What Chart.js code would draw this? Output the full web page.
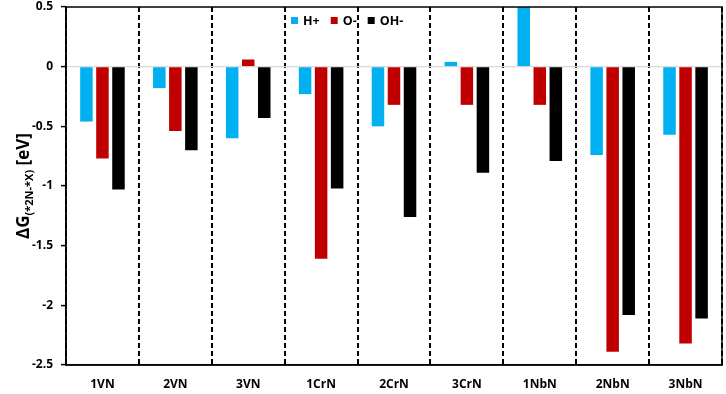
<!DOCTYPE html>
<html><head><meta charset="utf-8">
<script src="https://cdn.jsdelivr.net/npm/chart.js@4/dist/chart.umd.min.js"></script>
<style>html,body{margin:0;padding:0;background:#fff}#wrap{width:726px;height:394px}</style>
</head><body><div id="wrap"><canvas id="c" width="726" height="394"></canvas></div>
<script>
const categories = ['1VN','2VN','3VN','1CrN','2CrN','3CrN','1NbN','2NbN','3NbN'];
const hPlus = [-0.46,-0.18,-0.60,-0.23,-0.50,0.04,0.50,-0.74,-0.57];
const oMinus = [-0.77,-0.54,0.06,-1.61,-0.32,-0.32,-0.32,-2.39,-2.32];
const ohMinus = [-1.03,-0.70,-0.43,-1.02,-1.26,-0.89,-0.79,-2.08,-2.11];
const seriesLabels = ['H+','O-','OH-'];
const yTicks = [0.5,0,-0.5,-1,-1.5,-2,-2.5];

const FONT = '"Open Sans", Lato, sans-serif';
const colors = ['#00B0F0','#C00000','#000000'];

const boxPlugin = {
  id:'box',
  afterDraw(chart){
    const {ctx, chartArea:a} = chart;
    ctx.save();
    ctx.strokeStyle='#000'; ctx.lineWidth=1.5;
    ctx.strokeRect(a.left, a.top, a.right-a.left, a.bottom-a.top);
    // legend
    ctx.font = 'bold 12.5px '+FONT;
    ctx.textBaseline='middle';
    let x = 291; const y = 21;
    chart.data.datasets.forEach((ds,i)=>{
      ctx.fillStyle = ds.backgroundColor;
      ctx.fillRect(x, y-4, 7, 7);
      x += 12;
      ctx.fillStyle='#000';
      ctx.fillText(ds.label, x, y);
      x += ctx.measureText(ds.label).width + 11;
    });
    // y title
    ctx.translate(23, (a.top+a.bottom)/2);
    ctx.rotate(-Math.PI/2);
    const big = 'bold 17px '+FONT, small = 'bold 11px '+FONT, tail='bold 17px '+FONT;
    const p1='ΔG', p2='(*2N-*X)', p3=' [eV]';
    ctx.font=big; const w1=ctx.measureText(p1).width;
    ctx.font=small; const w2=ctx.measureText(p2).width;
    ctx.font=tail; const w3=ctx.measureText(p3).width;
    let sx = -(w1+w2+w3)/2;
    ctx.textBaseline='alphabetic';
    ctx.fillStyle='#000';
    ctx.font=big; ctx.fillText(p1, sx, 6); sx+=w1;
    ctx.font=small; ctx.fillText(p2, sx, 10); sx+=w2;
    ctx.font=tail; ctx.fillText(p3, sx, 6);
    ctx.restore();
  }
};

new Chart(document.getElementById('c'), {
  type:'bar',
  data:{
    labels: categories,
    datasets:[
      {label:seriesLabels[0], data:hPlus, backgroundColor:colors[0]},
      {label:seriesLabels[1], data:oMinus, backgroundColor:colors[1]},
      {label:seriesLabels[2], data:ohMinus, backgroundColor:colors[2]}
    ]
  },
  options:{
    responsive:false, animation:false, devicePixelRatio:1,
    layout:{padding:{top:7,right:4,left:0,bottom:0}},
    datasets:{bar:{categoryPercentage:0.66, barPercentage:0.78}},
    plugins:{legend:{display:false}, tooltip:{enabled:false}},
    scales:{
      x:{
        grid:{offset:true, drawTicks:false, color:'#000', lineWidth:2},
        border:{display:true, color:'#000', width:1.5, dash:[5,3]},
        ticks:{padding:12, color:'#000', font:{family:FONT, size:12, weight:'bold'}},
        afterFit(s){ s.height = 29; s.paddingLeft = 0; s.paddingRight = 0; }
      },
      y:{
        min:-2.5, max:0.5,
        afterBuildTicks(s){ s.ticks = yTicks.map(v=>({value:v})); },
        grid:{
          drawOnChartArea:true, tickLength:5, tickColor:'#000', tickWidth:1.5,
          color:(c)=> (c.tick && c.tick.value===0) ? '#d9d9d9' : 'rgba(0,0,0,0)',
          lineWidth:1.2
        },
        border:{display:true, color:'#000', width:1.5},
        ticks:{padding:8, color:'#000', font:{family:FONT, size:12, weight:'bold'},
          callback:(v)=> String(v)},
        afterFit(s){ s.width = 66; s.paddingTop = 0; s.paddingBottom = 0; }
      }
    }
  },
  plugins:[boxPlugin]
});
</script></body></html>
